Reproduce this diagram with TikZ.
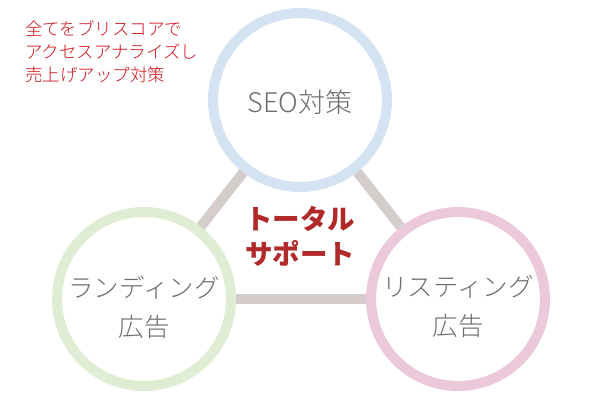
\documentclass[tikz,border=0pt]{standalone}
\usepackage{fontspec}
\newfontfamily\jp{Noto Sans CJK JP}
\newfontfamily\jplight{Noto Sans CJK JP Light}
\definecolor{ringblue}{HTML}{D3E3F2}
\definecolor{ringgreen}{HTML}{DFEDD5}
\definecolor{ringpink}{HTML}{EBC8DA}
\definecolor{linkgrey}{HTML}{D5CCCC}
\definecolor{labelgrey}{HTML}{6E6E6E}
\definecolor{notered}{HTML}{D0121B}
\definecolor{mainred}{HTML}{B02A2A}
\tikzset{
  ring/.style={circle, draw, line width=10pt, fill=white, minimum size=174pt,
    inner sep=0pt},
  ringtext/.style={text=labelgrey, align=center,
    font=\jplight\fontsize{25.5pt}{39pt}\selectfont},
  link/.style={draw=linkgrey, line width=10pt}
}
\begin{document}
\begin{tikzpicture}[x=1pt,y=-1pt]
\useasboundingbox (0,0) rectangle (600,400);
% Draw circles
\node[ring, draw=ringblue] (seo) at (300,100) {};
\node[ring, draw=ringgreen] (landing) at (144,299) {};
\node[ring, draw=ringpink] (listing) at (458,299) {};
% Draw links
\draw[link] (seo) -- (landing);
\draw[link] (seo) -- (listing);
\draw[link] (landing) -- (listing);
% Circle labels
\node[ringtext, font=\jplight\fontsize{27pt}{39pt}\selectfont] (seotext) at (300,102) {SEO対策};
\node[ringtext] (landingtext) at (144,307) {ランディング\\広告};
\node[ringtext] (listingtext) at (458,307) {リスティング\\広告};
% Center text
\node[text=mainred, align=center, font=\jp\bfseries\fontsize{27.5pt}{35pt}\selectfont]
  (support) at (300,236) {トータル\\サポート};
% Note
\node[anchor=north west, inner sep=0pt, text=notered, align=left,
  font=\jplight\fontsize{17.5pt}{23pt}\selectfont]
  (note) at (25,20) {全てをブリスコアで\\アクセスアナライズし\\売上げアップ対策};
\end{tikzpicture}
\end{document}
